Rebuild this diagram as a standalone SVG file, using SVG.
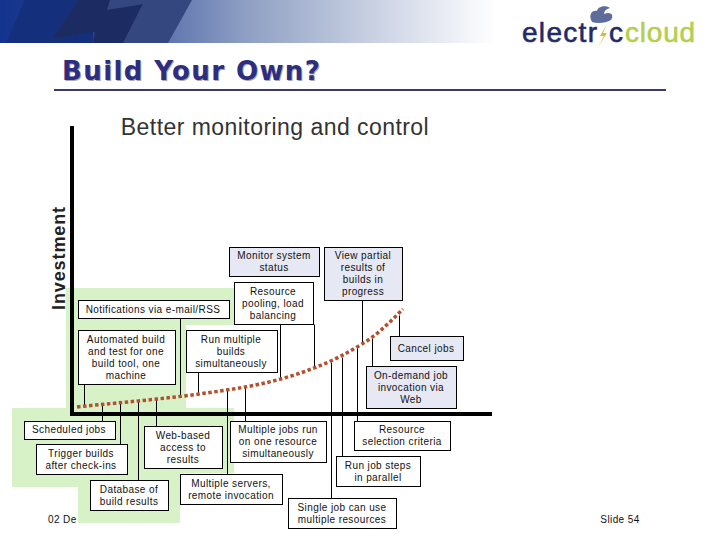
<svg xmlns="http://www.w3.org/2000/svg" width="720" height="540" viewBox="0 0 720 540">
<defs>
<linearGradient id="hdr" gradientUnits="userSpaceOnUse" x1="0" x2="495" y1="0" y2="0"><stop offset="0" stop-color="#12338e"/><stop offset="0.2" stop-color="#2e4488"/><stop offset="0.34" stop-color="#6076ae"/><stop offset="0.5" stop-color="#8fa0c4"/><stop offset="0.75" stop-color="#c8d0e2"/><stop offset="1" stop-color="#ffffff"/></linearGradient>
</defs>
<style>
text{font-family:"Liberation Sans",sans-serif;font-size:10px;letter-spacing:.4px;fill:#111;text-anchor:middle}
.w{fill:#fff;stroke:#000;stroke-width:1;transform:translate(.5px,.5px)}
.l{fill:#e6e8f4;stroke:#000;stroke-width:1;transform:translate(.5px,.5px)}
.c{stroke:#000;stroke-width:1;fill:none;transform:translate(.5px,.5px)}
.g{fill:#d8f2c8}
.logo{font-size:28px;text-anchor:start;stroke-width:.6px}
</style>
<rect x="0" y="0" width="720" height="540" fill="#fff"/>
<rect x="0" y="0" width="495" height="43" fill="url(#hdr)"/>
<path d="M25 0H78L52 39L93 32L93 43H6Z" fill="#14307c"/>
<path d="M110 0H192L168 43H123L143 4L107 10Z" fill="#34487f"/>
<path d="M78 0H110L107 10L143 4L123 43H93L95 32L52 39Z" fill="#1c2c62"/>
<g id="logo">
<path d="M592 22C588 15 592 10 597 11C598 6 606 5 610 8C606 9 604 11 604 14C612 11 614 16 611 20C606 23 598 24 592 22Z" fill="#5e6c9c"/>
<path d="M607 24L600 36L604 36L598 47L607 33L603 33Z" fill="#c8c040"/>
<text class="logo" x="522" y="42" style="letter-spacing:1.3px;fill:#1f2a66;stroke:#1f2a66">electr</text>
<text class="logo" x="609" y="42" style="fill:#1f2a66;stroke:#1f2a66">c</text>
<text class="logo" x="625" y="42" style="letter-spacing:.8px;fill:#b5cf4d;stroke:#b5cf4d">cloud</text>
</g>
<g id="title">
<text x="63" y="81" style="font-family:'DejaVu Sans',sans-serif;font-size:26px;font-weight:bold;letter-spacing:1.4px;text-anchor:start;fill:#aaa">Build Your Own?</text>
<text x="62" y="80" style="font-family:'DejaVu Sans',sans-serif;font-size:26px;font-weight:bold;letter-spacing:1.4px;text-anchor:start;fill:#2e2e80">Build Your Own?</text>
<rect x="54" y="89" width="612" height="2" fill="#3a3a70"/>
</g>
<text x="275" y="135" style="font-size:23px;letter-spacing:.45px;fill:#333">Better monitoring and control</text>
<path class="g" d="M66 288H240V325H186V408H234V473H180V523H78V487H12V408H66Z"/>
<text x="48" y="523" style="text-anchor:start">02 De</text>
<text x="620" y="523">Slide 54</text>
<g id="axes" fill="#000">
<rect x="70" y="126" width="4" height="290"/>
<rect x="70" y="412" width="422" height="4"/>
</g>
<text transform="translate(65,258) rotate(-90)" style="font-size:18px;font-weight:bold;letter-spacing:.9px;fill:#222">Investment</text>
<g id="connectors">
<path class="c" d="M102 403V421M120 402V444M138 401V480M156 399V426M227 390V474M245 387V421M84 384V406M180 318V397M198 372V395M280 324V378M314 324V368M362 300V344M399 315V336M372 338V366M331 362V498M342 357V456M357 346V421"/>
<path d="M77 407C104 404 130 402 157 399C186 396 216 392 245 387C268 383 291 377 314 368C330 362 346 354 362 344C376 336 389 323 403 309" fill="none" stroke="#b5502f" stroke-width="3.5" stroke-dasharray="3.5 2.5"/>
</g>
<g id="n1"><rect class="l" x="229" y="247" width="90" height="29"/><text x="274" y="259">Monitor system</text><text x="274" y="271">status</text></g>
<g id="n2"><rect class="w" x="234" y="282" width="79" height="42"/><text x="273" y="295">Resource</text><text x="273" y="307">pooling, load</text><text x="273" y="319">balancing</text></g>
<g id="n3"><rect class="l" x="324" y="247" width="78" height="53"/><text x="363" y="259">View partial</text><text x="363" y="271">results of</text><text x="363" y="283">builds in</text><text x="363" y="295">progress</text></g>
<g id="n4"><rect class="w" x="78" y="300" width="151" height="18"/><text x="153" y="313">Notifications via e-mail/RSS</text></g>
<g id="n5"><rect class="w" x="78" y="330" width="97" height="54"/><text x="126" y="343">Automated build</text><text x="126" y="355">and test for one</text><text x="126" y="367">build tool, one</text><text x="126" y="379">machine</text></g>
<g id="n6"><rect class="w" x="186" y="330" width="91" height="42"/><text x="231" y="343">Run multiple</text><text x="231" y="355">builds</text><text x="231" y="367">simultaneously</text></g>
<g id="n7"><rect class="l" x="390" y="336" width="73" height="24"/><text x="426" y="352">Cancel jobs</text></g>
<g id="n8"><rect class="l" x="366" y="366" width="90" height="42"/><text x="411" y="379">On-demand job</text><text x="411" y="391">invocation via</text><text x="411" y="403">Web</text></g>
<g id="n9"><rect class="w" x="24" y="421" width="91" height="18"/><text x="69" y="433">Scheduled jobs</text></g>
<g id="n10"><rect class="w" x="36" y="444" width="91" height="30"/><text x="81" y="457">Trigger builds</text><text x="81" y="469">after check-ins</text></g>
<g id="n11"><rect class="w" x="90" y="480" width="78" height="30"/><text x="129" y="493">Database of</text><text x="129" y="505">build results</text></g>
<g id="n12"><rect class="w" x="144" y="426" width="78" height="42"/><text x="183" y="439">Web-based</text><text x="183" y="451">access to</text><text x="183" y="463">results</text></g>
<g id="n13"><rect class="w" x="180" y="474" width="102" height="30"/><text x="231" y="487">Multiple servers,</text><text x="231" y="499">remote invocation</text></g>
<g id="n14"><rect class="w" x="230" y="421" width="96" height="41"/><text x="278" y="433">Multiple jobs run</text><text x="278" y="445">on one resource</text><text x="278" y="457">simultaneously</text></g>
<g id="n15"><rect class="w" x="354" y="421" width="96" height="29"/><text x="402" y="433">Resource</text><text x="402" y="445">selection criteria</text></g>
<g id="n16"><rect class="w" x="336" y="456" width="84" height="30"/><text x="378" y="469">Run job steps</text><text x="378" y="481">in parallel</text></g>
<g id="n17"><rect class="w" x="288" y="498" width="108" height="30"/><text x="342" y="511">Single job can use</text><text x="342" y="523">multiple resources</text></g>
</svg>
